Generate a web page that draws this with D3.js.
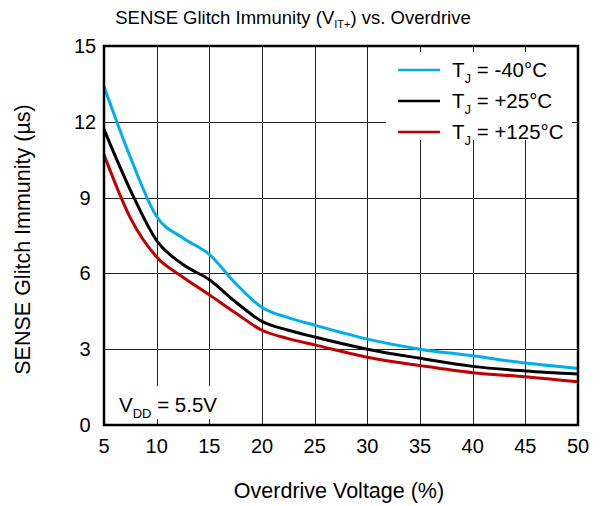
<!DOCTYPE html>
<html>
<head>
<meta charset="utf-8">
<script src="https://cdn.jsdelivr.net/npm/d3@7"></script>
<style>
  body { margin: 0; background: #fff; }
  text { font-family: "Liberation Sans", Arial, sans-serif; fill: #000; }
</style>
</head>
<body>
<svg id="chart"></svg>
<script>
// overdrive voltage (%)
const overdrive = [5, 7.5, 10, 12.5, 15, 17.5, 20, 22.5, 25, 30, 35, 40, 45, 50]
// glitch immunity (us) per junction temperature
const tMinus40 = [13.4, 10.6, 8.25, 7.4, 6.75, 5.6, 4.65, 4.25, 3.95, 3.4, 3.0, 2.74, 2.45, 2.24]
const tPlus25 = [11.7, 9.3, 7.3, 6.35, 5.75, 4.87, 4.1, 3.75, 3.48, 3.0, 2.64, 2.32, 2.14, 2.02]
const tPlus125 = [10.7, 8.2, 6.65, 5.85, 5.15, 4.43, 3.75, 3.42, 3.17, 2.68, 2.35, 2.07, 1.91, 1.71]
const xTicks = [5, 10, 15, 20, 25, 30, 35, 40, 45, 50]
const yTicks = [0, 3, 6, 9, 12, 15]

const series = [
  { label: '-40°C', values: tMinus40, color: '#00aeef' },
  { label: '+25°C', values: tPlus25, color: '#000000' },
  { label: '+125°C', values: tPlus125, color: '#c00000' }
]

const width = 600, height = 506
const margin = { top: 46, right: 22, bottom: 81, left: 104 }

const svg = d3.select('#chart').attr('width', width).attr('height', height)

const x = d3.scaleLinear().domain([5, 50]).range([margin.left, width - margin.right])
const y = d3.scaleLinear().domain([0, 15]).range([height - margin.bottom, margin.top])

// grid
svg.append('g')
  .selectAll('line')
  .data(xTicks.slice(1, -1))
  .enter().append('line')
  .attr('x1', d => Math.round(x(d)) + 0.5).attr('x2', d => Math.round(x(d)) + 0.5)
  .attr('y1', y(15)).attr('y2', y(0))
  .attr('stroke', '#222').attr('stroke-width', 1)

svg.append('g')
  .selectAll('line')
  .data(yTicks.slice(1, -1))
  .enter().append('line')
  .attr('y1', d => Math.round(y(d)) + 0.5).attr('y2', d => Math.round(y(d)) + 0.5)
  .attr('x1', x(5)).attr('x2', x(50))
  .attr('stroke', '#222').attr('stroke-width', 1)

// legend box hides grid
svg.append('rect')
  .attr('x', 386).attr('y', 52).attr('width', 186).attr('height', 88)
  .attr('fill', '#fff')

// VDD box
svg.append('rect')
  .attr('x', 110).attr('y', 386).attr('width', 122).attr('height', 33)
  .attr('fill', '#fff')

// curves
const line = d3.line()
  .x((d, i) => x(overdrive[i]))
  .y(d => y(d))
  .curve(d3.curveMonotoneX)

svg.append('g')
  .selectAll('path')
  .data(series.slice().reverse())
  .enter().append('path')
  .attr('d', d => line(d.values))
  .attr('fill', 'none')
  .attr('stroke', d => d.color)
  .attr('stroke-width', 3)

// frame
svg.append('rect')
  .attr('x', x(5)).attr('y', y(15))
  .attr('width', x(50) - x(5)).attr('height', y(0) - y(15))
  .attr('fill', 'none').attr('stroke', '#000').attr('stroke-width', 2.5)

// tick labels
svg.append('g')
  .selectAll('text')
  .data(xTicks)
  .enter().append('text')
  .attr('x', d => x(d)).attr('y', 453)
  .attr('text-anchor', 'middle')
  .attr('font-size', 20)
  .text(d => d)

svg.append('g')
  .selectAll('text')
  .data(yTicks)
  .enter().append('text')
  .attr('x', 85).attr('y', d => y(d) + 7)
  .attr('text-anchor', 'middle')
  .attr('font-size', 20)
  .text(d => d)

// title
const title = svg.append('text')
  .attr('x', 293).attr('y', 24)
  .attr('text-anchor', 'middle')
  .attr('font-size', 18.5)
title.append('tspan').text('SENSE Glitch Immunity (V')
title.append('tspan').attr('font-size', 11).attr('dy', 4).text('IT+')
title.append('tspan').attr('dy', -4).text(') vs. Overdrive')

svg.append('text')
  .attr('x', 339).attr('y', 498)
  .attr('text-anchor', 'middle')
  .attr('font-size', 21.5)
  .text('Overdrive Voltage (%)')

svg.append('text')
  .attr('transform', 'translate(30,' + (y(7.5) + 4) + ') rotate(-90)')
  .attr('text-anchor', 'middle')
  .attr('font-size', 21.5)
  .text('SENSE Glitch Immunity (µs)')

// legend
const legend = svg.append('g')
  .selectAll('g')
  .data(series)
  .enter().append('g')
  .attr('transform', (d, i) => 'translate(0,' + (70 + i * 31) + ')')

legend.append('line')
  .attr('x1', 398).attr('x2', 440)
  .attr('y1', 0).attr('y2', 0)
  .attr('stroke', d => d.color).attr('stroke-width', 2.5)

const lt = legend.append('text')
  .attr('x', 452).attr('y', 7)
  .attr('font-size', 20.5)
lt.append('tspan').text('T')
lt.append('tspan').attr('font-size', 13).attr('dy', 6).text('J')
lt.append('tspan').attr('dy', -6).text(d => ' = ' + d.label)

// supply note
const vdd = svg.append('text')
  .attr('x', 119).attr('y', 412)
  .attr('font-size', 20.5)
vdd.append('tspan').text('V')
vdd.append('tspan').attr('font-size', 13).attr('dy', 6).text('DD')
vdd.append('tspan').attr('dy', -6).text(' = 5.5V')
</script>
</body>
</html>
